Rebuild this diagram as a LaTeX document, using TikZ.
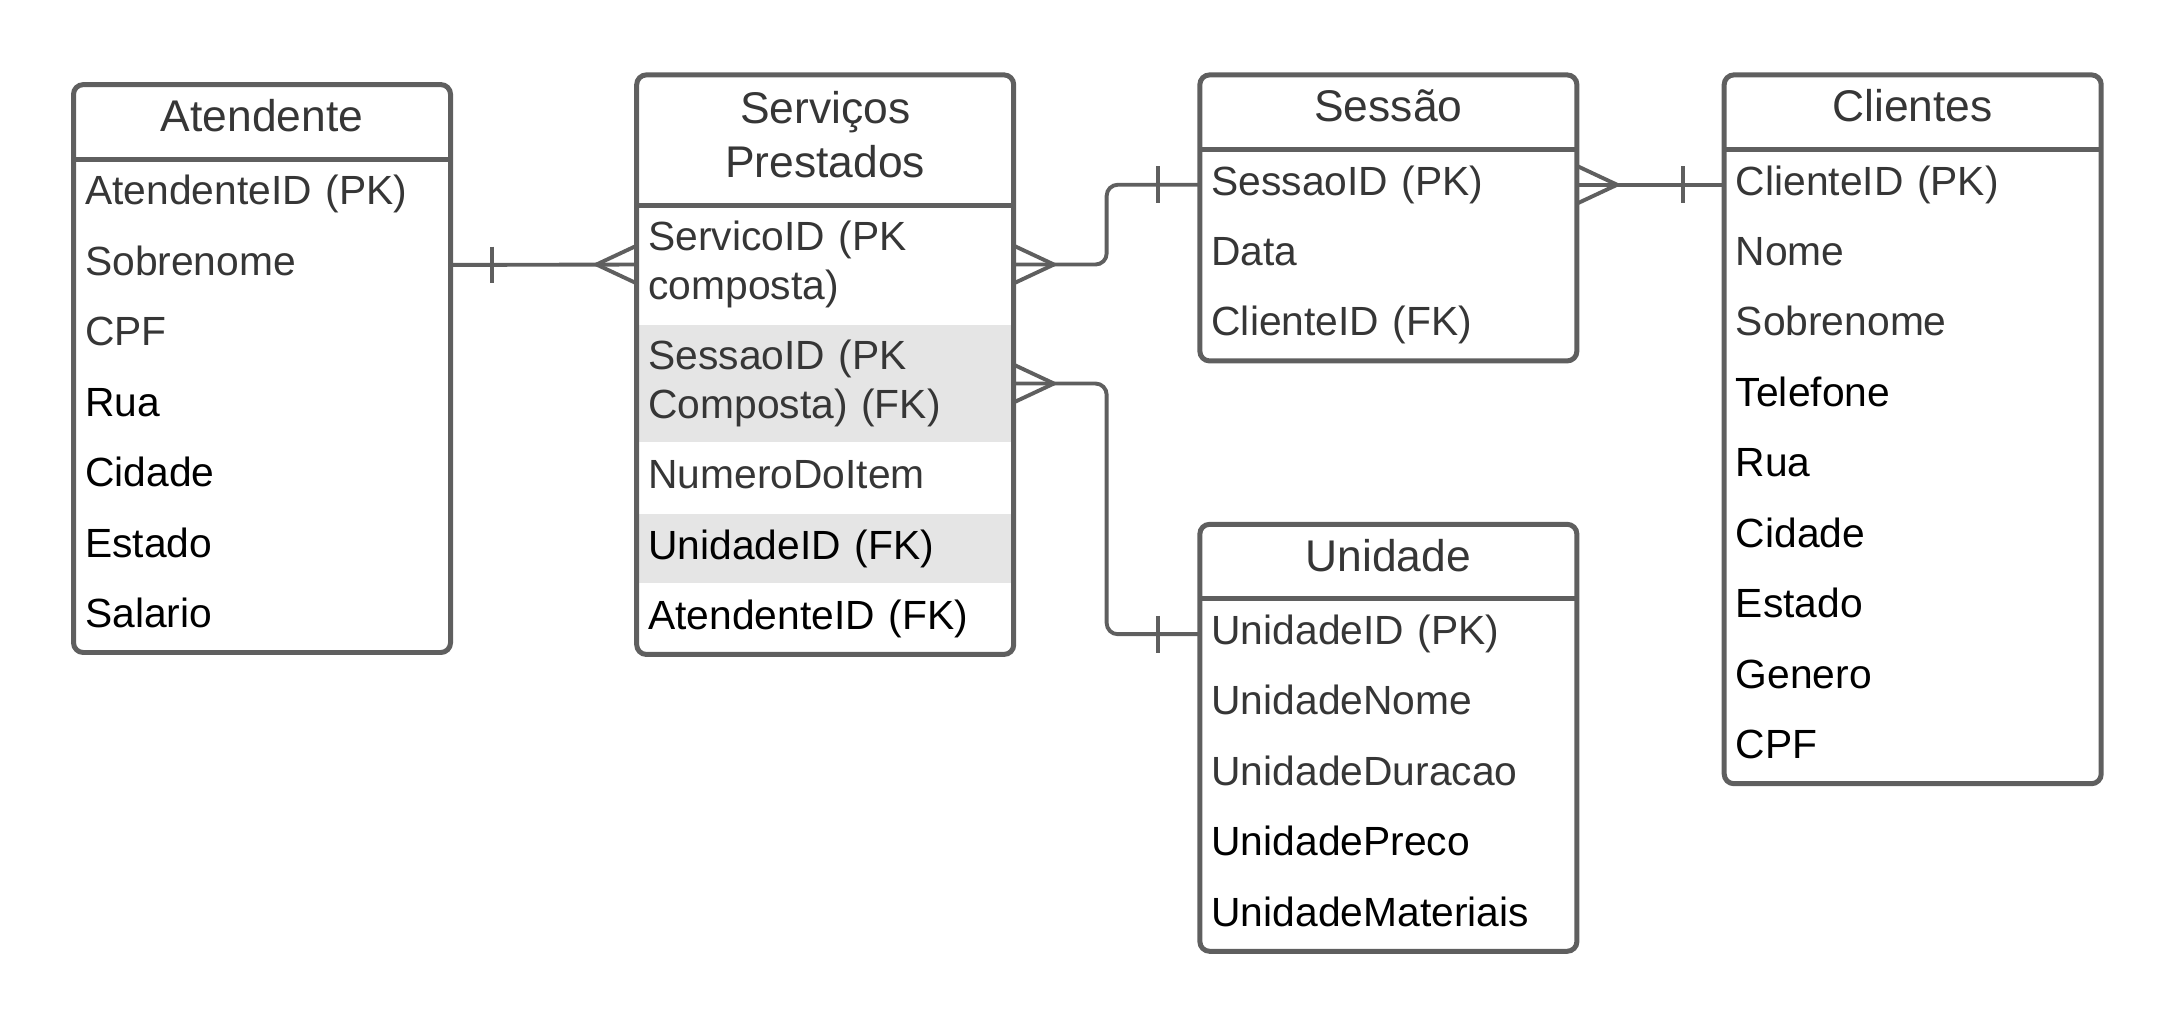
\documentclass[tikz,border=0pt]{standalone}
\usepackage{fontspec}
\setmainfont{Liberation Sans}
\usetikzlibrary{positioning}
\definecolor{erline}{HTML}{5F5F5F}
\definecolor{ertext}{HTML}{363636}
\definecolor{ershade}{HTML}{E5E5E5}

\begin{document}
\begin{tikzpicture}[x=0.5pt, y=-0.5pt,
    entity/.style={minimum width=135.5pt, minimum height=26.5pt, inner sep=0pt, align=center, text=ertext, font=\fontsize{16}{19.5}\selectfont},
    head/.style={entity, text height=11.5pt, text depth=4.5pt},
    attr/.style={anchor=north, text width=127.5pt, inner xsep=4pt, inner ysep=0pt, align=left, text=ertext, font=\fontsize{14.7}{17.5}\selectfont},
    row/.style={attr, minimum height=25pt, text height=10.5pt, text depth=3.1pt},
    tall/.style={attr, minimum height=42.5pt},
    dark/.style={text=black},
    shade/.style={fill=ershade},
    frame/.style={draw=erline, line width=1.8pt, rounded corners=3.5pt},
    sep/.style={draw=erline, line width=1.8pt},
    rel/.style={draw=erline, line width=1.4pt}
  ]
  \useasboundingbox (0,0) rectangle (1568,737);

  % Atendente
  \node[head, anchor=north west] (att) at (53,61) {Atendente};
  \node[row, below=0pt of att] (att-1) {AtendenteID (PK)};
  \node[row, below=0pt of att-1] (att-2) {Sobrenome};
  \node[row, below=0pt of att-2] (att-3) {CPF};
  \node[row, dark, below=0pt of att-3] (att-4) {Rua};
  \node[row, dark, below=0pt of att-4] (att-5) {Cidade};
  \node[row, dark, below=0pt of att-5] (att-6) {Estado};
  \node[row, dark, below=0pt of att-6] (att-7) {Salario};
  \draw[frame] (att.north west) rectangle (att-7.south east);
  \draw[sep] (att.south west) -- (att.south east);

  % Servicos Prestados
  \node[entity, minimum height=46.5pt, text depth=4pt, anchor=north west] (serv) at (459,54) {Serviços\\Prestados};
  \node[tall, below=0pt of serv] (serv-1) {ServicoID (PK\\composta)};
  \node[tall, shade, below=0pt of serv-1] (serv-2) {SessaoID (PK\\Composta) (FK)};
  \node[row, below=0pt of serv-2] (serv-3) {NumeroDoItem};
  \node[row, shade, dark, below=0pt of serv-3] (serv-4) {UnidadeID (FK)};
  \node[row, dark, below=0pt of serv-4] (serv-5) {AtendenteID (FK)};
  \draw[frame] (serv.north west) rectangle (serv-5.south east);
  \draw[sep] (serv.south west) -- (serv.south east);

  % Sessao
  \node[head, anchor=north west] (ses) at (865,54) {Sessão};
  \node[row, below=0pt of ses] (ses-1) {SessaoID (PK)};
  \node[row, below=0pt of ses-1] (ses-2) {Data};
  \node[row, below=0pt of ses-2] (ses-3) {ClienteID (FK)};
  \draw[frame] (ses.north west) rectangle (ses-3.south east);
  \draw[sep] (ses.south west) -- (ses.south east);

  % Clientes
  \node[head, anchor=north west] (cli) at (1243,54) {Clientes};
  \node[row, below=0pt of cli] (cli-1) {ClienteID (PK)};
  \node[row, below=0pt of cli-1] (cli-2) {Nome};
  \node[row, below=0pt of cli-2] (cli-3) {Sobrenome};
  \node[row, dark, below=0pt of cli-3] (cli-4) {Telefone};
  \node[row, dark, below=0pt of cli-4] (cli-5) {Rua};
  \node[row, dark, below=0pt of cli-5] (cli-6) {Cidade};
  \node[row, dark, below=0pt of cli-6] (cli-7) {Estado};
  \node[row, dark, below=0pt of cli-7] (cli-8) {Genero};
  \node[row, dark, below=0pt of cli-8] (cli-9) {CPF};
  \draw[frame] (cli.north west) rectangle (cli-9.south east);
  \draw[sep] (cli.south west) -- (cli.south east);

  % Unidade
  \node[head, anchor=north west] (uni) at (865,378) {Unidade};
  \node[row, below=0pt of uni] (uni-1) {UnidadeID (PK)};
  \node[row, below=0pt of uni-1] (uni-2) {UnidadeNome};
  \node[row, below=0pt of uni-2] (uni-3) {UnidadeDuracao};
  \node[row, dark, below=0pt of uni-3] (uni-4) {UnidadePreco};
  \node[row, dark, below=0pt of uni-4] (uni-5) {UnidadeMateriais};
  \draw[frame] (uni.north west) rectangle (uni-5.south east);
  \draw[sep] (uni.south west) -- (uni.south east);

  % Atendente -- Servicos
  \draw[rel] (att-2.east) -- (serv-1.west);
  \draw[rel] ([xshift=15pt]att-2.east) ++(0,6.6pt) -- ++(0,-13.2pt);
  \draw[rel] ([yshift=6.8pt]serv-1.west) -- ([xshift=-14.5pt]serv-1.west) -- ([yshift=-6.8pt]serv-1.west);

  % Servicos -- Sessao
  \draw[rel, rounded corners=4pt] (serv-1.east) -- ++(33.5pt,0) |- (ses-1.west);
  \draw[rel] ([yshift=6.8pt]serv-1.east) -- ([xshift=14.5pt]serv-1.east) -- ([yshift=-6.8pt]serv-1.east);
  \draw[rel] ([xshift=-15pt]ses-1.west) ++(0,6.6pt) -- ++(0,-13.2pt);

  % Servicos -- Unidade
  \draw[rel, rounded corners=4pt] (serv-2.east) -- ++(33.5pt,0) |- (uni-1.west);
  \draw[rel] ([yshift=6.8pt]serv-2.east) -- ([xshift=14.5pt]serv-2.east) -- ([yshift=-6.8pt]serv-2.east);
  \draw[rel] ([xshift=-15pt]uni-1.west) ++(0,6.6pt) -- ++(0,-13.2pt);

  % Sessao -- Clientes
  \draw[rel] (ses-1.east) -- (cli-1.west);
  \draw[rel] ([yshift=6.8pt]ses-1.east) -- ([xshift=14.5pt]ses-1.east) -- ([yshift=-6.8pt]ses-1.east);
  \draw[rel] ([xshift=-15pt]cli-1.west) ++(0,6.6pt) -- ++(0,-13.2pt);
\end{tikzpicture}
\end{document}
